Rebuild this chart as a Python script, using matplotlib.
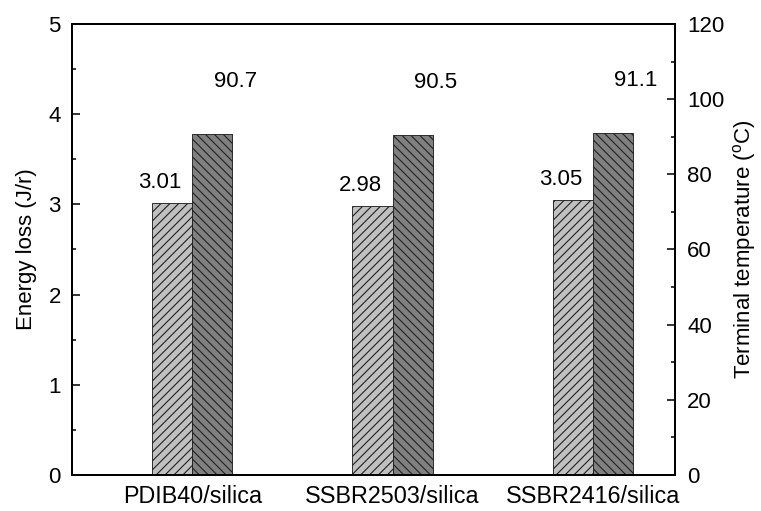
import matplotlib
matplotlib.use("Agg")
import matplotlib.pyplot as plt
import numpy as np
from matplotlib.ticker import MultipleLocator

plt.rcParams['font.family'] = ['Liberation Sans', 'DejaVu Sans']
plt.rcParams['mathtext.fontset'] = 'custom'
plt.rcParams['mathtext.rm'] = 'Liberation Sans'
plt.rcParams['hatch.linewidth'] = 1.0

samples = ["PDIB40/silica", "SSBR2503/silica", "SSBR2416/silica"]
energy_loss = [3.01, 2.98, 3.05]
terminal_temp = [90.7, 90.5, 91.1]

dpi = 80
fig = plt.figure(figsize=(761 / dpi, 511 / dpi), dpi=dpi)
ax = fig.add_axes([0.0946, 0.0705, 0.7924, 0.8825])
ax2 = ax.twinx()

x = np.arange(1, len(samples) + 1)
w = 0.2
fs = 20

ax.bar(x - w / 2, energy_loss, w, color='#c0c0c0', edgecolor='#202020',
       linewidth=0.8, hatch='///')
ax2.bar(x + w / 2, terminal_temp, w, color='#808080', edgecolor='#202020',
        linewidth=0.8, hatch='\\\\\\')

for xi, v in zip(x, energy_loss):
    ax.text(xi - 0.16, v + 0.23, f"{v:.2f}", ha='center', va='center', fontsize=fs)
for xi, v in zip(x, terminal_temp):
    ax2.text(xi + 0.215, v + 14, f"{v:.1f}", ha='center', va='center', fontsize=fs)

ax.set_xlim(0.4, 3.41)
ax.set_ylim(0, 5)
ax2.set_ylim(0, 120)
ax.set_xticks(x)
ax.set_xticklabels(samples, fontsize=21)
ax.yaxis.set_major_locator(MultipleLocator(1))
ax.yaxis.set_minor_locator(MultipleLocator(0.5))
ax2.yaxis.set_major_locator(MultipleLocator(20))
ax2.yaxis.set_minor_locator(MultipleLocator(10))

ax.tick_params(axis='x', length=0, pad=9)
ax.tick_params(axis='y', which='major', direction='in', length=7, width=1.4,
               labelsize=fs, pad=10)
ax.tick_params(axis='y', which='minor', direction='in', length=4, width=1.4)
ax2.tick_params(axis='y', which='major', direction='in', length=7, width=1.4,
                labelsize=fs, pad=11)
ax2.tick_params(axis='y', which='minor', direction='in', length=4, width=1.4)

for a in (ax, ax2):
    for s in a.spines.values():
        s.set_linewidth(1.8)

ax.set_ylabel("Energy loss (J/r)", fontsize=fs, labelpad=10)
ax2.set_ylabel("Terminal temperature ($\\mathregular{^o}$C)", fontsize=fs, labelpad=6)

fig.savefig("out.png", dpi=dpi)
